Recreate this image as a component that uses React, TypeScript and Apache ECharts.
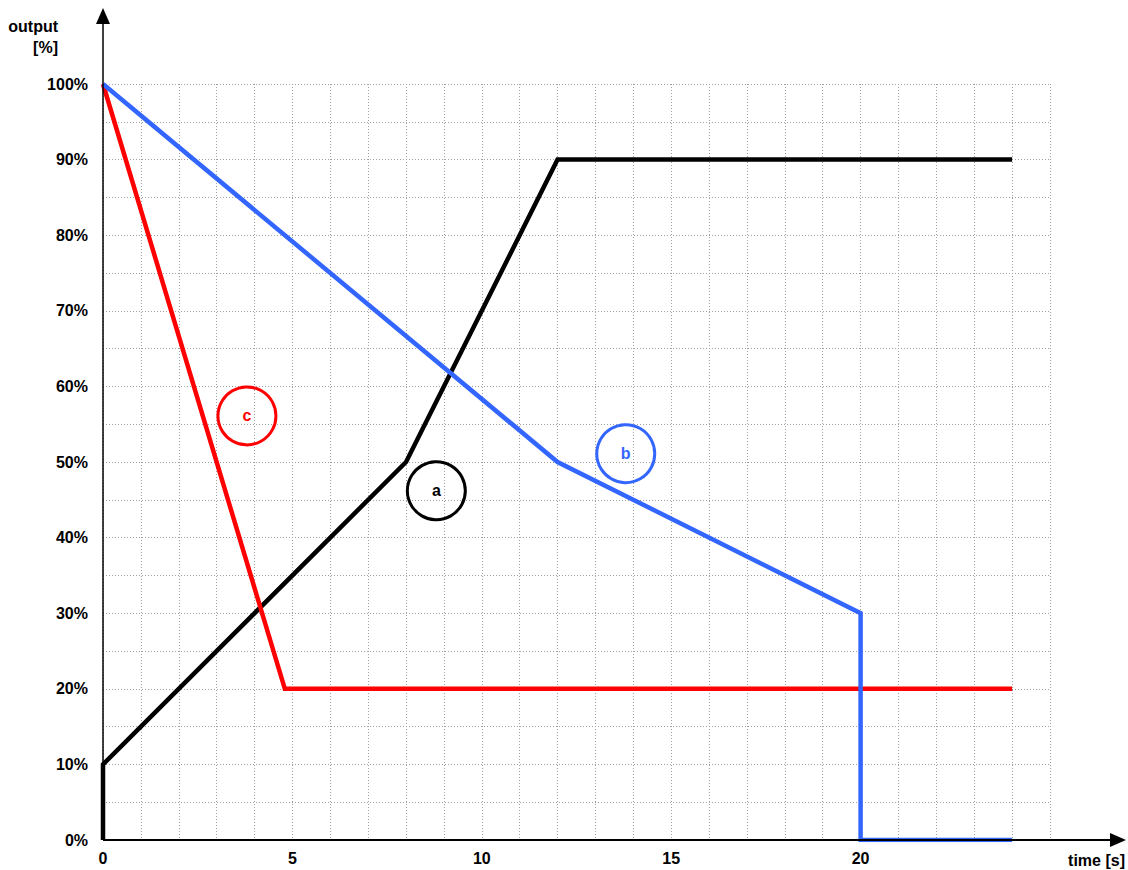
import React, { useEffect, useRef } from "react";
import * as echarts from "echarts";

const seriesA: [number, number][] = [[0, 0], [0, 10], [8, 50], [12, 90], [24, 90]];
const seriesB: [number, number][] = [[0, 100], [12, 50], [20, 30], [20, 0], [24, 0]];
const seriesC: [number, number][] = [[0, 100], [4.8, 20], [24, 20]];
const markerNames = ["a", "b", "c"];
const markerPoints: [number, number][] = [[8.8, 46.2], [13.8, 51.1], [3.8, 56.1]];
const colors = { a: "#000000", b: "#3366FF", c: "#FF0000" };
const xTickLabels = [0, 5, 10, 15, 20];
const yTickLabels = [0, 10, 20, 30, 40, 50, 60, 70, 80, 90, 100];

const GRID = { left: 103, top: 84, width: 947, height: 756 };
const FONT = "'Liberation Sans', Arial, sans-serif";
const FS = 16;

export default function App() {
  const ref = useRef<HTMLDivElement>(null);
  useEffect(() => {
    if (!ref.current) return;
    const chart = echarts.init(ref.current, undefined, { renderer: "svg" });
    const x0 = GRID.left;
    const y0 = GRID.top + GRID.height;
    const option: any = {
      animation: false,
      backgroundColor: "#ffffff",
      textStyle: { fontFamily: FONT },
      grid: { left: GRID.left, top: GRID.top, width: GRID.width, height: GRID.height },
      xAxis: {
        type: "value",
        min: 0,
        max: 25,
        interval: 1,
        axisLine: { show: false },
        axisTick: { show: false },
        axisLabel: {
          margin: 10,
          fontFamily: FONT,
          fontWeight: "bold",
          fontSize: FS,
          color: "#000",
          formatter: (v: number) => (xTickLabels.includes(v) ? String(v) : ""),
        },
        splitLine: { show: true, lineStyle: { color: "#a0a0a0", width: 1, type: [1, 2] } },
      },
      yAxis: {
        type: "value",
        min: 0,
        max: 100,
        interval: 5,
        axisLine: { show: false },
        axisTick: { show: false },
        axisLabel: {
          margin: 15,
          fontFamily: FONT,
          fontWeight: "bold",
          fontSize: FS,
          color: "#000",
          formatter: (v: number) => (yTickLabels.includes(v) ? v + "%" : ""),
        },
        splitLine: { show: true, lineStyle: { color: "#a0a0a0", width: 1, type: [1, 2] } },
      },
      graphic: [
        { type: "line", shape: { x1: x0, y1: y0, x2: 1113, y2: y0 }, style: { stroke: "#000", lineWidth: 2 }, z: 10 },
        { type: "polygon", shape: { points: [[1126, y0], [1110, y0 - 7], [1110, y0 + 7]] }, style: { fill: "#000" }, z: 10 },
        { type: "line", shape: { x1: x0, y1: y0, x2: x0, y2: 22 }, style: { stroke: "#000", lineWidth: 1.5 }, z: 10 },
        { type: "polygon", shape: { points: [[x0, 8], [x0 - 7, 24], [x0 + 7, 24]] }, style: { fill: "#000" }, z: 10 },
        {
          type: "text",
          x: 58,
          y: 26,
          style: { text: "output", textAlign: "right", textVerticalAlign: "middle", font: `bold ${FS}px ${FONT}`, fill: "#000" },
        },
        {
          type: "text",
          x: 58,
          y: 47,
          style: { text: "[%]", textAlign: "right", textVerticalAlign: "middle", font: `bold ${FS}px ${FONT}`, fill: "#000" },
        },
        {
          type: "text",
          x: 1125,
          y: 860,
          style: { text: "time [s]", textAlign: "right", textVerticalAlign: "middle", font: `bold ${FS}px ${FONT}`, fill: "#000" },
        },
      ],
      series: [
        {
          name: "a",
          type: "line",
          data: seriesA,
          symbol: "none",
          lineStyle: { color: colors.a, width: 4.5, join: "miter" },
          z: 3,
        },
        {
          name: "c",
          type: "line",
          data: seriesC,
          symbol: "none",
          lineStyle: { color: colors.c, width: 4.5, join: "miter" },
          z: 4,
        },
        {
          name: "b",
          type: "line",
          data: seriesB,
          symbol: "none",
          lineStyle: { color: colors.b, width: 4.5, join: "miter" },
          z: 5,
        },
        {
          type: "scatter",
          z: 6,
          symbol: "circle",
          symbolSize: 58,
          data: markerPoints.map((p, i) => {
            const c = (colors as any)[markerNames[i]];
            return {
              value: p,
              name: markerNames[i],
              itemStyle: { color: "rgba(255,255,255,0)", borderColor: c, borderWidth: 3, opacity: 1 },
              label: {
                show: true,
                position: "inside",
                formatter: markerNames[i],
                color: c,
                fontWeight: "bold",
                fontSize: FS,
                fontFamily: FONT,
              },
            };
          }),
        },
      ],
    };
    chart.setOption(option);
    return () => chart.dispose();
  }, []);
  return (
    <div
      ref={ref}
      style={{ position: "absolute", left: 0, top: 0, width: 1128, height: 870, background: "#fff" }}
    />
  );
}
